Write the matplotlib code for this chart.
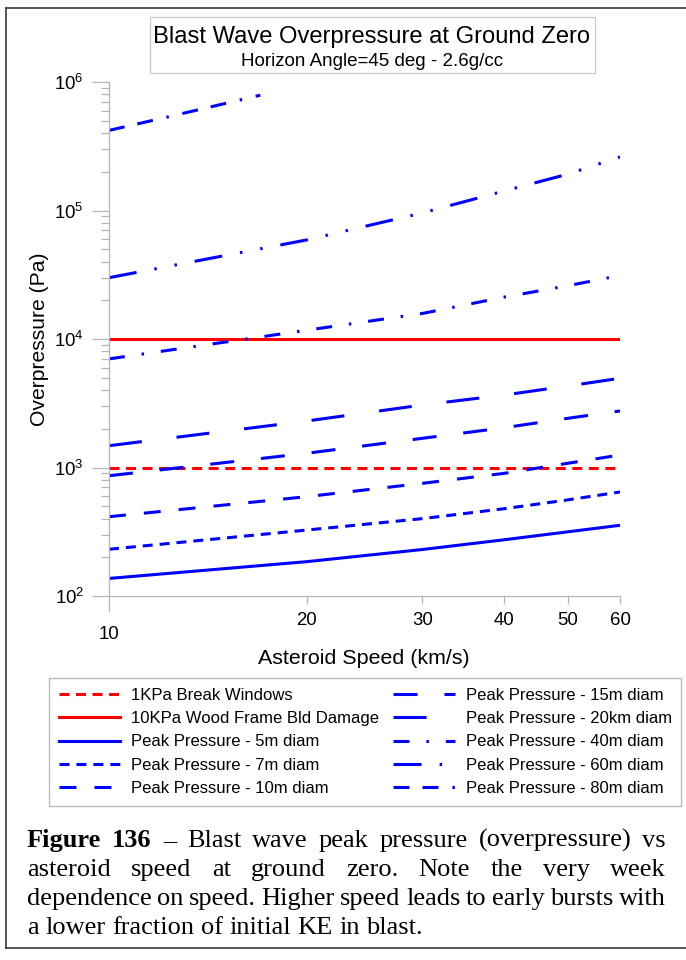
import matplotlib
matplotlib.use("Agg")
import matplotlib.pyplot as plt
from matplotlib.ticker import FixedLocator, FixedFormatter, LogLocator, NullFormatter
from matplotlib.lines import Line2D
from matplotlib.patches import Rectangle

plt.rcParams['font.family'] = ['Liberation Sans', 'DejaVu Sans']
plt.rcParams['mathtext.fontset'] = 'custom'
plt.rcParams['mathtext.rm'] = 'Liberation Sans'
plt.rcParams['mathtext.it'] = 'Liberation Sans:italic'
plt.rcParams['lines.scale_dashes'] = False

# data (speed km/s, overpressure Pa)
speed = [10, 20, 30, 40, 50, 60]
p_5m = [137, 185, 230, 274, 316, 355]
p_7m = [231, 326, 400, 478, 560, 645]
p_10m = [414, 593, 753, 901, 1079, 1251]
p_15m = [863, 1290, 1687, 2041, 2416, 2754]
p_20km = [1478, 2300, 3065, 3665, 4310, 4946]
p_40m = [7000, 11700, 15800, 21200, 26000, 31200]
p_60m = [30000, 59000, 95700, 142000, 192000, 261000]
speed_80m = [10, 12, 14, 17]
p_80m = [420000, 520000, 625000, 790000]
limit_speed = [10, 60]
p_windows = [1000, 1000]
p_wood = [10000, 10000]

labels = ['1KPa Break Windows', '10KPa Wood Frame Bld Damage',
          'Peak Pressure - 5m diam', 'Peak Pressure - 7m diam',
          'Peak Pressure - 10m diam', 'Peak Pressure - 15m diam',
          'Peak Pressure - 20km diam', 'Peak Pressure - 40m diam',
          'Peak Pressure - 60m diam', 'Peak Pressure - 80m diam']

caption = ["Figure 136 \u2013 Blast wave peak pressure (overpressure) vs",
           "asteroid speed at ground zero. Note the very week",
           "dependence on speed. Higher speed leads to early bursts with",
           "a lower fraction of initial KE in blast."]

W, H = 686, 960
fig = plt.figure(figsize=(W / 100, H / 100), dpi=100)
ax = fig.add_axes([109 / W, 1 - 596 / H, (620 - 109) / W, (596 - 82) / H])

lw = 2.2
red = '#ff0000'
blue = '#0000ff'
h = []
h += ax.plot(limit_speed, p_windows, color=red, lw=lw, ls=(0, (7.2, 4.7)))
h += ax.plot(limit_speed, p_wood, color=red, lw=lw)
h += ax.plot(speed, p_5m, color=blue, lw=lw)
h += ax.plot(speed, p_7m, color=blue, lw=lw, ls=(0, (7.2, 5.0)))
h += ax.plot(speed, p_10m, color=blue, lw=lw, ls=(0, (12.2, 13)))
h += ax.plot(speed, p_15m, color=blue, lw=lw, ls=(0, (17.3, 19.4)))
h += ax.plot(speed, p_20km, color=blue, lw=lw, ls=(0, (23.8, 25.2)))
h += ax.plot(speed, p_40m, color=blue, lw=lw, ls=(0, (11.5, 12.2, 1.8, 12.2)))
h += ax.plot(speed, p_60m, color=blue, lw=lw, ls=(0, (20.2, 13, 1.8, 13, 1.8, 13)))
h += ax.plot(speed_80m, p_80m, color=blue, lw=lw, ls=(0, (11.5, 9.4, 11.5, 10, 1.8, 10)))

ax.set_xscale('log')
ax.set_yscale('log')
ax.set_xlim(10, 60)
ax.set_ylim(1e2, 1e6)

ax.xaxis.set_major_locator(FixedLocator([10]))
ax.xaxis.set_major_formatter(FixedFormatter(['10']))
ax.xaxis.set_minor_locator(FixedLocator([20, 30, 40, 50, 60]))
ax.xaxis.set_minor_formatter(FixedFormatter(['20', '30', '40', '50', '60']))
ax.yaxis.set_major_locator(LogLocator(base=10, numticks=10))
ax.yaxis.set_minor_locator(LogLocator(base=10, subs=range(2, 10), numticks=10))
ax.yaxis.set_minor_formatter(NullFormatter())

gray = '#b4b4b4'
for side in ['top', 'right']:
    ax.spines[side].set_visible(False)
for side in ['left', 'bottom']:
    ax.spines[side].set_color(gray)
    ax.spines[side].set_linewidth(0.9)
ax.tick_params(which='both', color=gray, width=0.9, labelsize=13.4, direction='out')
ax.tick_params(axis='x', which='major', length=11.5, pad=10)
ax.tick_params(axis='x', which='minor', length=5.8, pad=6)
ax.tick_params(axis='y', which='major', length=12, pad=6)
ax.tick_params(axis='y', which='minor', length=5.8)

fig.text(40 / W, 1 - 339 / H, 'Overpressure (Pa)', rotation=90, fontsize=15.2,
         ha='center', va='center')
fig.text(364 / W, 1 - 658 / H, 'Asteroid Speed (km/s)', fontsize=15.4,
         ha='center', va='center')

# title box
fig.patches.append(Rectangle((150 / W, 1 - 73 / H), 445 / W, 56 / H,
                             transform=fig.transFigure, fill=False,
                             edgecolor='#c8c8c8', lw=0.9))
fig.text(372 / W, 1 - 37 / H, 'Blast Wave Overpressure at Ground Zero',
         fontsize=17.1, ha='center', va='center')
fig.text(372 / W, 1 - 61 / H, 'Horizon Angle=45 deg - 2.6g/cc',
         fontsize=13.5, ha='center', va='center')

leg = fig.legend(h, labels, ncol=2, loc='upper left',
                 bbox_to_anchor=(49 / W, 1 - 678 / H), borderaxespad=0,
                 fontsize=12, handlelength=3.7, handletextpad=0.64,
                 columnspacing=0.86, labelspacing=0.5, borderpad=0.58,
                 fancybox=False, framealpha=1)
leg.get_frame().set_edgecolor('#b4b4b4')
leg.get_frame().set_linewidth(0.9)

# page frame
frame = dict(color='#3a3a3a', lw=1.2, transform=fig.transFigure)
fig.lines.append(Line2D([6 / W, 6 / W], [1 - 8 / H, 1 - 948 / H], **frame))
fig.lines.append(Line2D([6 / W, 1], [1 - 8 / H, 1 - 8 / H], **frame))
fig.lines.append(Line2D([6 / W, 1], [1 - 948 / H, 1 - 948 / H], **frame))

# justified caption
renderer = fig.canvas.get_renderer()
x_left, x_right = 27 / W, 666 / W
baselines = [847, 876, 905, 934]
cap_size = 19
for i, line in enumerate(caption):
    words = line.split()
    texts = []
    for j, w in enumerate(words):
        weight = 'bold' if (i == 0 and j < 2) else 'normal'
        texts.append(fig.text(0, 1 - baselines[i] / H, w, fontsize=cap_size,
                              family='Liberation Serif', weight=weight,
                              va='baseline', ha='left'))
    widths = [t.get_window_extent(renderer).width / fig.bbox.width for t in texts]
    if i < len(caption) - 1:
        gap = (x_right - x_left - sum(widths)) / (len(words) - 1)
    else:
        gap = 0.25 * cap_size * 100 / 72 / W
    x = x_left
    for t, w in zip(texts, widths):
        t.set_x(x)
        x += w + gap

fig.savefig('out.png', dpi=100)
